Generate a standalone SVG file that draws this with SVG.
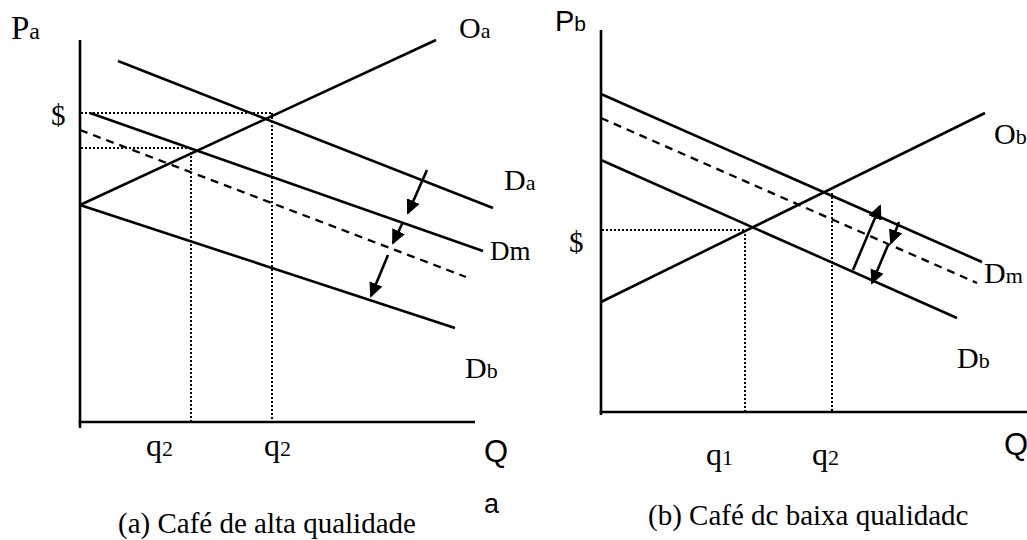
<svg xmlns="http://www.w3.org/2000/svg" width="1027" height="540" viewBox="0 0 1027 540">
<style>
.ax{stroke:#000;stroke-width:2.6;fill:none}
.ln{stroke:#000;stroke-width:2.6;fill:none;stroke-linecap:butt}
.ds{stroke:#000;stroke-width:2.3;fill:none;stroke-dasharray:8 6}
.dt{stroke:#000;stroke-width:2;fill:none;stroke-dasharray:2 2}
.ar{stroke:#000;stroke-width:2.6;fill:none;marker-end:url(#ah)}
.s{font-family:'Liberation Serif','DejaVu Serif','Times New Roman',serif;fill:#000}
.ss{font-family:'Liberation Sans','DejaVu Sans',Arial,sans-serif;fill:#000}
</style>
<defs>
<marker id="ah" markerUnits="userSpaceOnUse" markerWidth="16" markerHeight="14" refX="13" refY="7" orient="auto">
<path d="M0,0 L15,7 L0,14 z" fill="#000"/>
</marker>
</defs>
<rect width="1027" height="540" fill="#fff"/>
<g id="panel-a">
<g id="axes-a">
<line class="ax" x1="80" y1="40" x2="80" y2="428"/>
<line class="ax" x1="78.7" y1="422" x2="475" y2="422"/>
</g>
<g id="guides-a">
<line class="dt" x1="81" y1="113" x2="272" y2="113"/>
<line class="dt" x1="272" y1="113" x2="272" y2="422"/>
<line class="dt" x1="81" y1="148" x2="193" y2="148"/>
<line class="dt" x1="191" y1="148" x2="191" y2="422"/>
</g>
<g id="curves-a">
<line class="ln" x1="80" y1="205" x2="436" y2="40"/>
<line class="ln" x1="118" y1="61" x2="493" y2="208"/>
<line class="ln" x1="90" y1="113" x2="483" y2="251"/>
<line class="ds" x1="80" y1="130" x2="466" y2="277"/>
<line class="ln" x1="80" y1="205" x2="455" y2="328"/>
</g>
<g id="arrows-a">
<line class="ar" x1="427" y1="170" x2="408" y2="213"/>
<line class="ar" x1="403" y1="222" x2="393" y2="243"/>
<line class="ar" x1="388" y1="255" x2="371" y2="296"/>
</g>
<g id="labels-a">
<text class="s" x="11" y="39" font-size="33">P<tspan font-size="24">a</tspan></text>
<text class="s" x="51" y="125" font-size="29">$</text>
<text class="s" x="459" y="38" font-size="30">O<tspan font-size="22">a</tspan></text>
<text class="s" x="504" y="190" font-size="30">D<tspan font-size="22">a</tspan></text>
<text class="s" x="490" y="260" font-size="27">Dm</text>
<text class="s" x="465" y="378" font-size="30">D<tspan font-size="22">b</tspan></text>
<text class="s" x="146" y="456" font-size="32">q<tspan font-size="22">2</tspan></text>
<text class="s" x="264" y="456" font-size="32">q<tspan font-size="22">2</tspan></text>
<text class="ss" x="484" y="462" font-size="31">Q</text>
<text class="ss" x="484" y="513" font-size="27">a</text>
<text class="s" x="118" y="533" font-size="29">(a) Café de alta qualidade</text>
</g>
</g>
<g id="panel-b">
<g id="axes-b">
<line class="ax" x1="601" y1="30" x2="601" y2="415"/>
<line class="ax" x1="599.7" y1="412" x2="1027" y2="412"/>
</g>
<g id="guides-b">
<line class="dt" x1="602" y1="230" x2="750" y2="230"/>
<line class="dt" x1="745" y1="230" x2="745" y2="412"/>
<line class="dt" x1="832" y1="193" x2="832" y2="412"/>
</g>
<g id="curves-b">
<line class="ln" x1="601" y1="94" x2="982" y2="262"/>
<line class="ds" x1="601" y1="118" x2="977" y2="283"/>
<line class="ln" x1="601" y1="160" x2="957" y2="318"/>
<line class="ln" x1="601" y1="302" x2="985" y2="113"/>
</g>
<g id="arrows-b">
<line class="ar" x1="853" y1="270" x2="880" y2="206"/>
<line class="ar" x1="899" y1="222" x2="891" y2="243"/>
<line class="ar" x1="888" y1="245" x2="872" y2="283"/>
</g>
<g id="labels-b">
<text class="ss" x="555" y="31" font-size="29">P<tspan font-size="21">b</tspan></text>
<text class="s" x="569" y="252" font-size="29">$</text>
<text class="s" x="994" y="144" font-size="30">O<tspan font-size="22">b</tspan></text>
<text class="s" x="984" y="283" font-size="30">D<tspan font-size="22">m</tspan></text>
<text class="s" x="957" y="368" font-size="30">D<tspan font-size="22">b</tspan></text>
<text class="s" x="706" y="465" font-size="32">q<tspan font-size="22">1</tspan></text>
<text class="s" x="812" y="465" font-size="32">q<tspan font-size="22">2</tspan></text>
<text class="ss" x="1004" y="455" font-size="31">Q</text>
<text class="s" x="648" y="525" font-size="29">(b) Café dc baixa qualidadc</text>
</g>
</g>
</svg>
